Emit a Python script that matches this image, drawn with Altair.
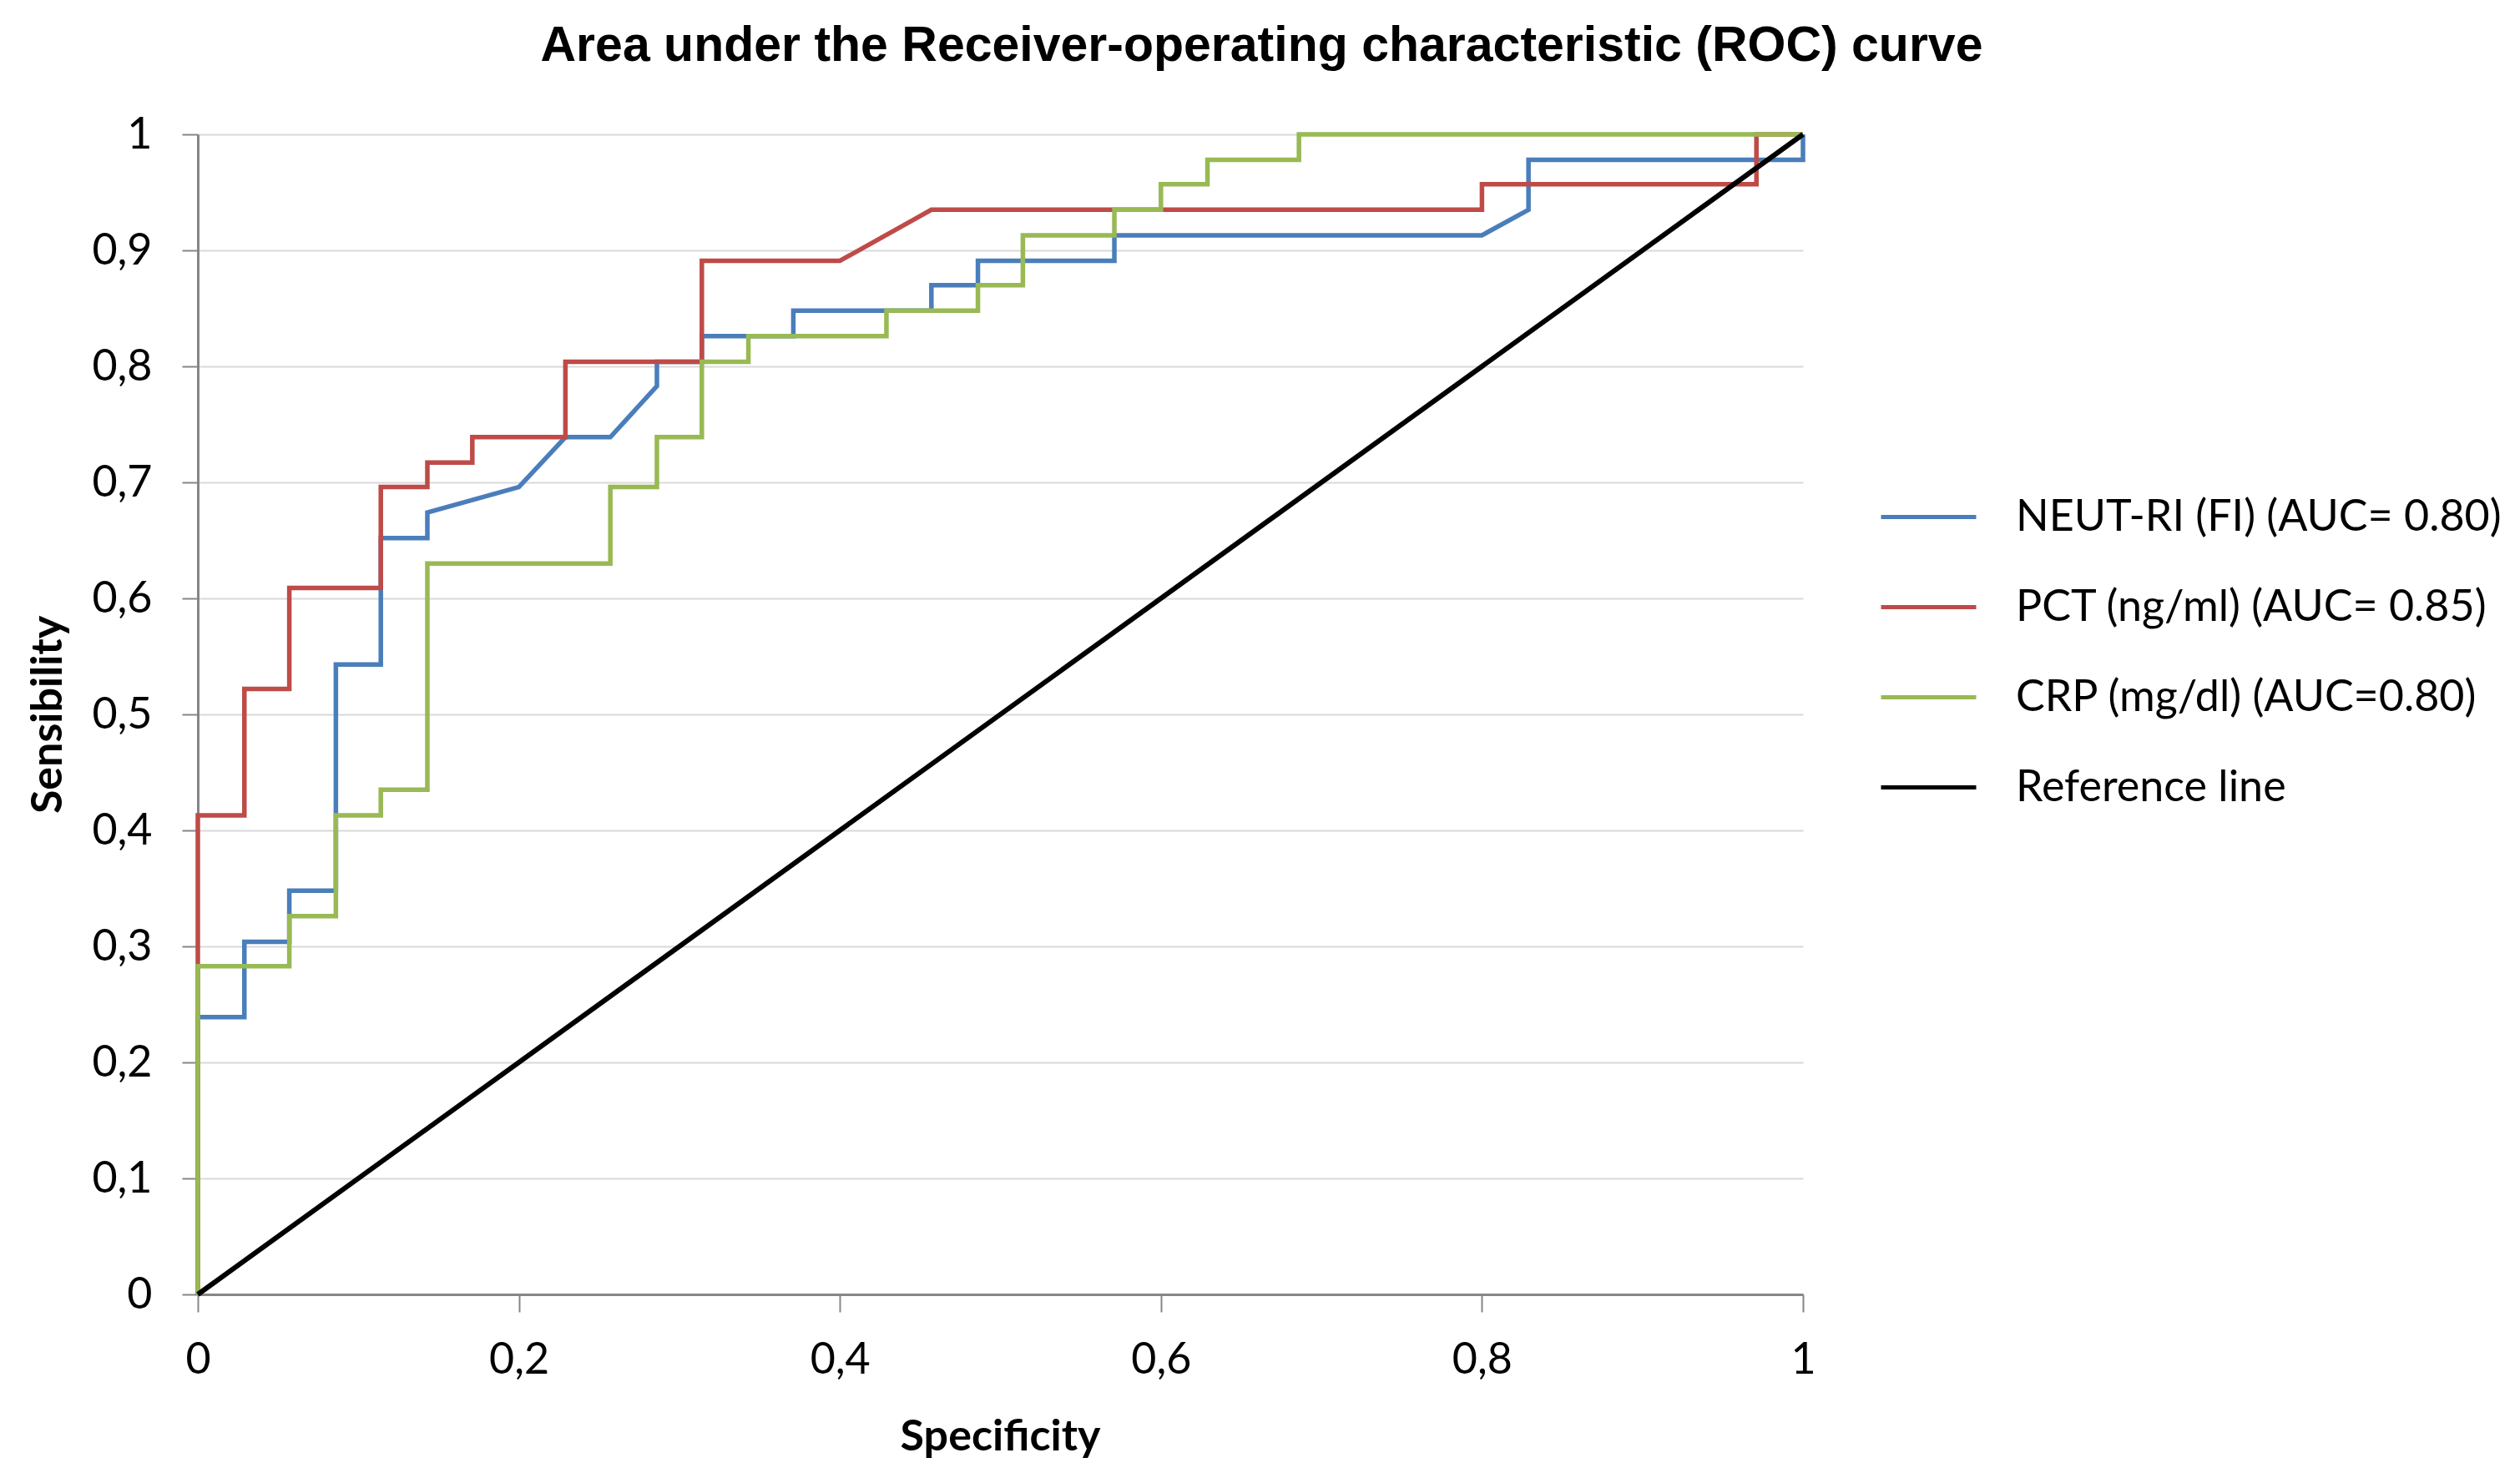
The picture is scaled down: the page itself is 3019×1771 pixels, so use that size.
import altair as alt
import pandas as pd

# ---- data ----
neut_x = [0, 0, 0.029, 0.029, 0.057, 0.057, 0.086, 0.086, 0.114, 0.114, 0.143, 0.143,
          0.2, 0.229, 0.257, 0.286, 0.286, 0.314, 0.314, 0.371, 0.371, 0.457, 0.457,
          0.486, 0.486, 0.571, 0.571, 0.8, 0.829, 0.829, 1, 1]
neut_y = [0, 0.239, 0.239, 0.304, 0.304, 0.348, 0.348, 0.543, 0.543, 0.652, 0.652, 0.674,
          0.696, 0.739, 0.739, 0.783, 0.804, 0.804, 0.826, 0.826, 0.848, 0.848, 0.870,
          0.870, 0.891, 0.891, 0.913, 0.913, 0.935, 0.978, 0.978, 1]

pct_x = [0, 0, 0.029, 0.029, 0.057, 0.057, 0.114, 0.114, 0.143, 0.143, 0.171, 0.171,
         0.229, 0.229, 0.314, 0.314, 0.4, 0.457, 0.8, 0.8, 0.971, 0.971, 1]
pct_y = [0, 0.413, 0.413, 0.522, 0.522, 0.609, 0.609, 0.696, 0.696, 0.717, 0.717, 0.739,
         0.739, 0.804, 0.804, 0.891, 0.891, 0.935, 0.935, 0.957, 0.957, 1, 1]

crp_x = [0, 0, 0.057, 0.057, 0.086, 0.086, 0.114, 0.114, 0.143, 0.143, 0.257, 0.257,
         0.286, 0.286, 0.314, 0.314, 0.343, 0.343, 0.429, 0.429, 0.486, 0.486, 0.514,
         0.514, 0.571, 0.571, 0.6, 0.6, 0.629, 0.629, 0.686, 0.686, 1]
crp_y = [0, 0.283, 0.283, 0.326, 0.326, 0.413, 0.413, 0.435, 0.435, 0.630, 0.630, 0.696,
         0.696, 0.739, 0.739, 0.804, 0.804, 0.826, 0.826, 0.848, 0.848, 0.870, 0.870,
         0.913, 0.913, 0.935, 0.935, 0.957, 0.957, 0.978, 0.978, 1, 1]

ref_x = [0, 1]
ref_y = [0, 1]

series_names = ["NEUT-RI (FI) (AUC= 0.80)", "PCT (ng/ml) (AUC= 0.85)",
                "CRP (mg/dl) (AUC=0.80)", "Reference line"]
series_colors = ["#4A7EBB", "#BE4B48", "#98B954", "#000000"]

x_tick_values = [0, 0.2, 0.4, 0.6, 0.8, 1]
x_tick_labels = ["0", "0,2", "0,4", "0,6", "0,8", "1"]
y_tick_values = [0, 0.1, 0.2, 0.3, 0.4, 0.5, 0.6, 0.7, 0.8, 0.9, 1]
y_tick_labels = ["0", "0,1", "0,2", "0,3", "0,4", "0,5", "0,6", "0,7", "0,8", "0,9", "1"]

title_text = "Area under the Receiver-operating characteristic (ROC) curve"
x_title = "Specificity"
y_title = "Sensibility"

# ---- build table ----
frames = []
for name, xs, ys in zip(series_names,
                        [neut_x, pct_x, crp_x, ref_x],
                        [neut_y, pct_y, crp_y, ref_y]):
    frames.append(pd.DataFrame({"series": name, "spec": xs, "sens": ys,
                                "idx": list(range(len(xs)))}))
df = pd.concat(frames, ignore_index=True)


def label_expr(labels, values):
    pairs = " : ".join(
        [f"abs(datum.value - {v}) < 1e-6 ? '{l}'" for v, l in zip(values, labels)]
    )
    return pairs + " : ''"


FONT = "Lato"

x_enc = alt.X(
    "spec:Q",
    scale=alt.Scale(domain=[0, 1], nice=False, zero=False),
    axis=alt.Axis(
        title=x_title, values=x_tick_values,
        labelExpr=label_expr(x_tick_labels, x_tick_values),
        grid=False, domainColor="#868686", domainWidth=3,
        tickColor="#868686", tickWidth=2, tickSize=21,
        labelFont=FONT, labelFontSize=52, labelColor="#000000",
        labelPadding=32, labelFlush=False, labelOverlap=False,
        titleFont=FONT, titleFontSize=52, titleFontWeight="bold", titleColor="#000000",
        titleX=961, titleY=186, titleAlign="center", titleBaseline="alphabetic",
    ),
)
y_enc = alt.Y(
    "sens:Q",
    scale=alt.Scale(domain=[0, 1], nice=False, zero=False),
    axis=alt.Axis(
        title=y_title, values=y_tick_values,
        labelExpr=label_expr(y_tick_labels, y_tick_values),
        grid=True, gridColor="#D9D9D9", gridWidth=2,
        domainColor="#868686", domainWidth=3,
        tickColor="#868686", tickWidth=2, tickSize=19,
        labelFont=FONT, labelFontSize=52, labelColor="#000000",
        labelPadding=36, labelFlush=False, labelOverlap=False,
        titleFont=FONT, titleFontSize=52, titleFontWeight="bold", titleColor="#000000",
        titleX=-180, titleY=695, titleAngle=270, titleAlign="center",
        titleBaseline="middle",
    ),
)
color_enc = alt.Color(
    "series:N",
    scale=alt.Scale(domain=series_names, range=series_colors),
    legend=alt.Legend(
        title=None, orient="none", legendX=2014, legendY=399,
        symbolType="stroke", symbolSize=12996, symbolStrokeWidth=5,
        labelFont=FONT, labelFontSize=52, labelColor="#000000",
        labelOffset=45, rowPadding=22, padding=0, labelLimit=1000,
    ),
)

base = alt.Chart(df)
layers = []
for name in series_names:
    layers.append(
        base.transform_filter(alt.datum.series == name)
        .mark_line(strokeWidth=6 if name == "Reference line" else 5.5)
        .encode(x=x_enc, y=y_enc, color=color_enc, order="idx:Q")
    )

chart = (
    alt.layer(*layers)
    .properties(
        width=1923, height=1390,
        title=alt.TitleParams(
            text=title_text, font="Liberation Sans", fontSize=59, fontWeight="bold",
            color="#000000", anchor="middle", frame="group", dx=313, offset=50,
        ),
        padding={"left": 229, "top": 153, "right": 840, "bottom": 200},
        autosize=alt.AutoSizeParams(type="none"),
        background="#FFFFFF",
    )
    .configure_view(stroke=None)
)

chart.save("out.html", embed_options={"renderer": "svg", "actions": False})
